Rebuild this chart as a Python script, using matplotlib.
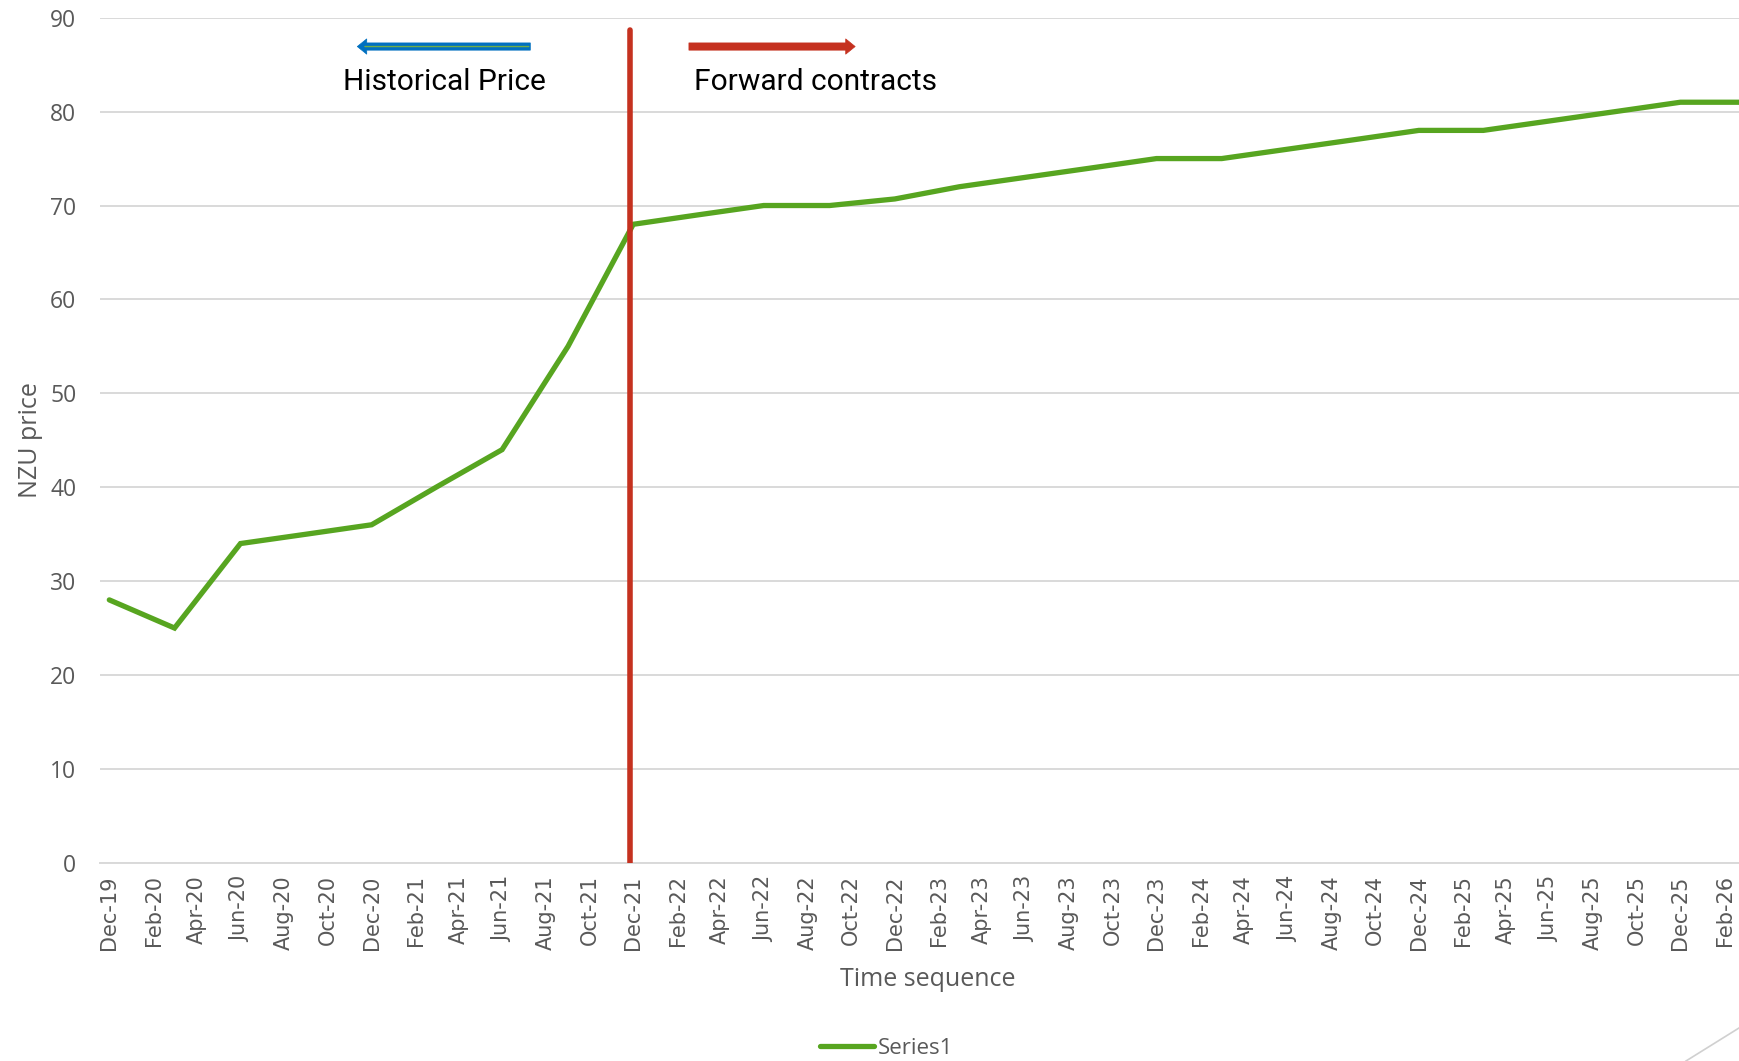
import matplotlib
matplotlib.use("Agg")
import matplotlib.pyplot as plt
import matplotlib.dates as mdates
import pandas as pd
from matplotlib.lines import Line2D

# Data (quarterly NZU price)
dates = ["2019-12", "2020-03", "2020-06", "2020-09", "2020-12", "2021-03", "2021-06",
         "2021-09", "2021-12", "2022-03", "2022-06", "2022-09", "2022-12", "2023-03",
         "2023-06", "2023-09", "2023-12", "2024-03", "2024-06", "2024-09", "2024-12",
         "2025-03", "2025-06", "2025-09", "2025-12", "2026-03"]
prices = [28, 25, 34, 35, 36, 40, 44, 55, 68, 69, 70, 70, 70.7, 72,
          73, 74, 75, 75, 76, 77, 78, 78, 79, 80, 81, 81]
divider_date = "2021-12"
yticks = [0, 10, 20, 30, 40, 50, 60, 70, 80, 90]

x = pd.to_datetime(dates)
gray = "#595959"
grid = "#d9d9d9"

fig = plt.figure(figsize=(17.39, 10.61), dpi=100)
ax = fig.add_axes([0.0575, 0.1868, 1.0096 - 0.0575, 0.9833 - 0.1868])

line, = ax.plot(x, prices, color="#57a520", lw=3.8, solid_joinstyle="miter",
                solid_capstyle="round", label="Series1", zorder=3)

# divider between historical and forward prices
ax.plot([pd.Timestamp(divider_date) - pd.Timedelta(days=4)] * 2, [0, 88.7],
        color="#c5311f", lw=4, solid_capstyle="round", zorder=4)

ax.set_xlim(pd.Timestamp("2019-11-18"), pd.Timestamp("2026-03-16"))
ax.set_ylim(0, 90)
ax.set_yticks(yticks)
ax.xaxis.set_major_locator(mdates.MonthLocator(bymonth=[2, 4, 6, 8, 10, 12]))
ax.xaxis.set_major_formatter(mdates.DateFormatter("%b-%y"))

ax.grid(axis="y", color=grid, lw=1.4)
ax.set_axisbelow(True)
for s in ["top", "right", "left"]:
    ax.spines[s].set_visible(False)
ax.spines["bottom"].set_color(grid)
ax.spines["bottom"].set_linewidth(1.4)

ax.tick_params(axis="y", length=0, pad=17, labelcolor=gray, labelsize=16.5)
ax.tick_params(axis="x", length=0, pad=9, labelcolor=gray, labelsize=15, rotation=90)
for t in ax.get_yticklabels():
    t.set_family(["Open Sans", "DejaVu Sans"])

ax.set_ylabel("NZU price", fontsize=18, color=gray, family=["Open Sans", "DejaVu Sans"], labelpad=5)
ax.set_xlabel("Time sequence", fontsize=18, color=gray, family=["Open Sans", "DejaVu Sans"], labelpad=12)

# arrows and annotations
arrow_style = "simple,head_length=0.34,head_width=0.55,tail_width=0.26"
ax.annotate("", xy=(0.1554, 0.9659), xytext=(0.2599, 0.9659), xycoords="axes fraction",
            arrowprops=dict(arrowstyle=arrow_style, mutation_scale=20,
                            fc="#0070c0", ec="#0070c0", lw=0.5, shrinkA=0, shrinkB=0))
ax.annotate("", xy=(0.160, 0.9659), xytext=(0.2590, 0.9659), xycoords="axes fraction",
            arrowprops=dict(arrowstyle="-", color="#70ad47", lw=1.0, shrinkA=0, shrinkB=0))
ax.annotate("", xy=(0.4561, 0.9659), xytext=(0.3557, 0.9659), xycoords="axes fraction",
            arrowprops=dict(arrowstyle=arrow_style, mutation_scale=20,
                            fc="#c5311f", ec="#c5311f", lw=0.5, shrinkA=0, shrinkB=0))
ax.text(0.208, 0.9238, "Historical Price", transform=ax.transAxes, ha="center", va="center",
        fontsize=21.5, color="black", family=["Roboto", "DejaVu Sans"])
ax.text(0.4323, 0.9238, "Forward contracts", transform=ax.transAxes, ha="center", va="center",
        fontsize=21.5, color="black", family=["Roboto", "DejaVu Sans"])

leg = fig.legend(handles=[line], loc="lower center", bbox_to_anchor=(0.51, -0.017),
                 frameon=False, handlelength=2.4, handletextpad=0.2,
                 prop={"family": ["Open Sans", "DejaVu Sans"], "size": 16})
for t in leg.get_texts():
    t.set_color(gray)

# slide decoration in bottom-right corner
fig.add_artist(Line2D([1.0, 0.9695], [0.0311, 0.0], transform=fig.transFigure,
                      color="#d0d0d0", lw=1.2))

fig.savefig("out.png", dpi=100)
